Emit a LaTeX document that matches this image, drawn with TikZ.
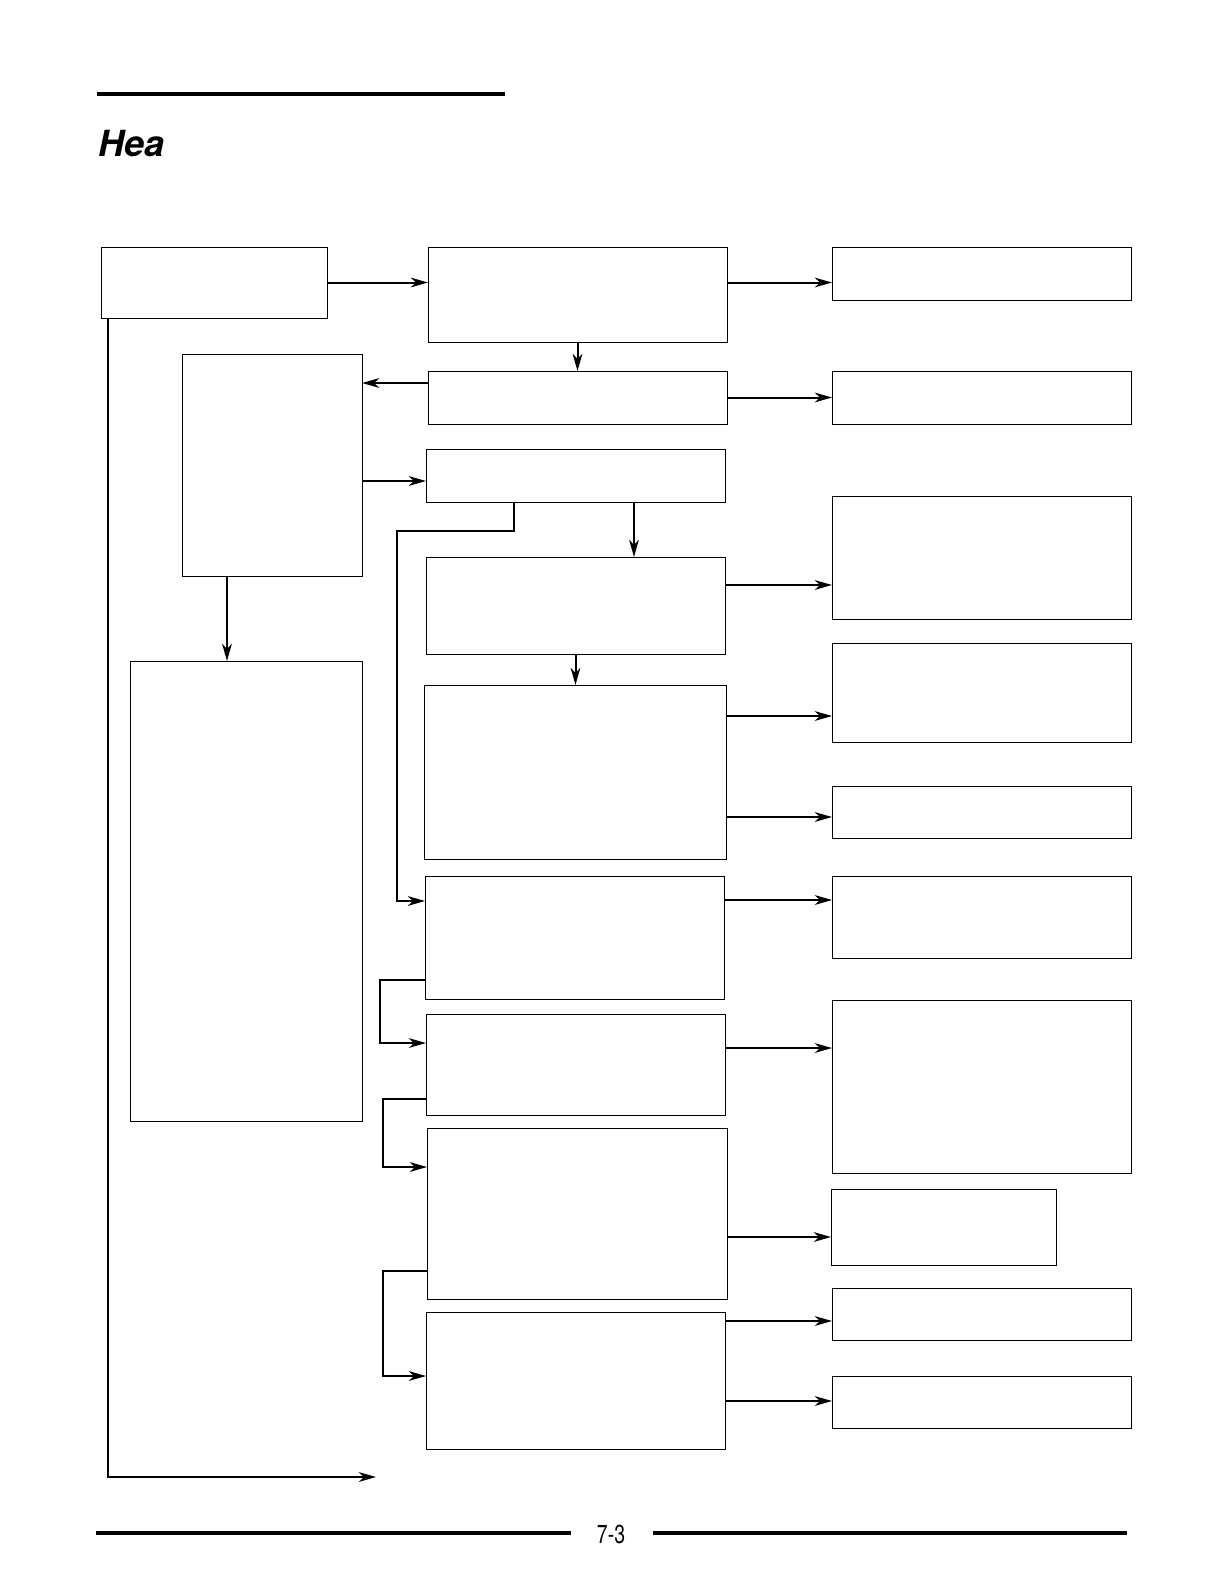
\documentclass[tikz,border=0pt]{standalone}
\usepackage{fontspec}
\setmainfont{TeX Gyre Heros}
\usetikzlibrary{arrows.meta, positioning}

\begin{document}
\begin{tikzpicture}[
    x=0.5bp, y=-0.5bp,
    box/.style 2 args={draw, line width=0.5bp, anchor=north west, inner sep=0pt, outer sep=0pt,
                       minimum width=#1*0.5bp, minimum height=#2*0.5bp},
    flow/.style={-{Stealth[length=8.5bp, width=4.8bp, inset=2.4bp]}, line width=1bp},
    rule/.style={line width=1.9bp}
]
    \useasboundingbox (0,0) rectangle (1224,1584);

    % header
    \draw[rule] (97,94) -- (505,94);
    \node[anchor=base west, inner sep=0pt, font=\fontsize{18bp}{20bp}\selectfont\bfseries\itshape] (title) at (98,156) {Hea};

    % left side
    \node[box={226}{71}] (start) at (101,247) {};
    \node[box={180}{222}] (side) at (182,354) {};
    \node[box={232}{460}] (sidelist) at (130,661) {};

    % middle column
    \node[box={299}{95}] (first) at (428,247) {};
    \node[box={299}{53}] (second) at (428,371) {};
    \node[box={299}{53}] (third) at (426,449) {};
    \node[box={299}{97}] (fourth) at (426,557) {};
    \node[box={302}{174}] (fifth) at (424,685) {};
    \node[box={299}{123}] (sixth) at (425,876) {};
    \node[box={299}{101}] (seventh) at (426,1014) {};
    \node[box={300}{171}] (eighth) at (427,1128) {};
    \node[box={299}{137}] (ninth) at (426,1312) {};

    % right column
    \node[box={299}{53}] (resA) at (832,247) {};
    \node[box={299}{53}] (resB) at (832,371) {};
    \node[box={299}{123}] (resC) at (832,496) {};
    \node[box={299}{99}] (resD) at (832,643) {};
    \node[box={299}{52}] (resE) at (832,786) {};
    \node[box={299}{82}] (resF) at (832,876) {};
    \node[box={299}{173}] (resG) at (832,1000) {};
    \node[box={225}{76}] (resH) at (831,1189) {};
    \node[box={299}{52}] (resI) at (832,1288) {};
    \node[box={299}{52}] (resJ) at (832,1376) {};

    % connectors
    \draw[flow] (start.east) -- (first.west |- start.east);
    \draw[flow] (first.east |- start.east) -- (resA.west |- start.east);
    \draw[flow] (first.south) -- (second.north);
    \draw[flow] (second.west |- 0,383) -- (side.east |- 0,383);
    \draw[flow] (second.east) -- (resB.west);
    \draw[flow] (side.east |- 0,481) -- (third.west |- 0,481);
    \draw[flow] (third.south -| 634,0) -- (fourth.north -| 634,0);
    \draw[flow] (third.south -| 514,0) |- (397,531) |- (sixth.west |- 0,901);
    \draw[flow] (side.south -| 227,0) -- (sidelist.north -| 227,0);
    \draw[flow] (fourth.east |- 0,585) -- (resC.west |- 0,585);
    \draw[flow] (fourth.south) -- (fifth.north -| fourth.south);
    \draw[flow] (fifth.east |- 0,716) -- (resD.west |- 0,716);
    \draw[flow] (fifth.east |- 0,817) -- (resE.west |- 0,817);
    \draw[flow] (sixth.east |- 0,900) -- (resF.west |- 0,900);
    \draw[flow] (sixth.west |- 0,980) -| (380,1043) -- (seventh.west |- 0,1043);
    \draw[flow] (seventh.east |- 0,1048) -- (resG.west |- 0,1048);
    \draw[flow] (seventh.west |- 0,1099) -| (383,1167) -- (eighth.west |- 0,1167);
    \draw[flow] (eighth.east |- 0,1237) -- (resH.west |- 0,1237);
    \draw[flow] (eighth.west |- 0,1271) -| (383,1376) -- (ninth.west |- 0,1376);
    \draw[flow] (ninth.east |- 0,1321) -- (resI.west |- 0,1321);
    \draw[flow] (ninth.east |- 0,1401) -- (resJ.west |- 0,1401);
    \coordinate (loopend) at (376,1477);
    \draw[flow] (start.south -| 108,0) |- (loopend);

    % footer
    \draw[rule, line width=2.1bp] (96,1533) -- (571,1533);
    \draw[rule, line width=2.1bp] (653,1533) -- (1127,1533);
    \node[inner sep=0pt, font=\fontsize{13bp}{15bp}\selectfont] (pagenum) at (611,1534) {\scalebox{0.75}[1]{7-3}};
\end{tikzpicture}
\end{document}
